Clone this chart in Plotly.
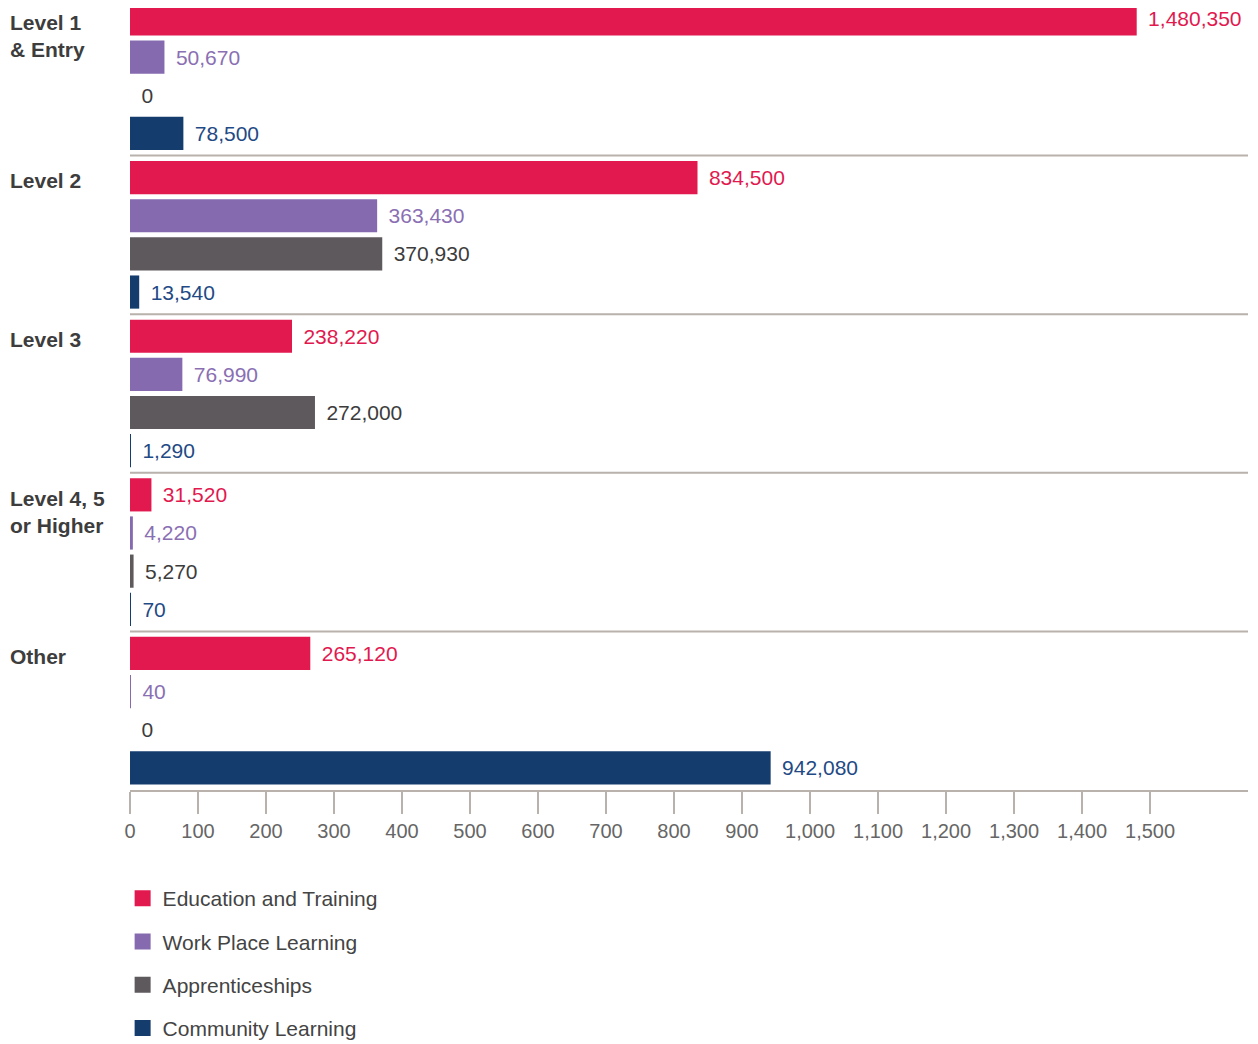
import plotly.graph_objects as go

categories = ["Level 1 & Entry", "Level 2", "Level 3", "Level 4, 5 or Higher", "Other"]
category_labels = ["Level 1<br>& Entry", "Level 2", "Level 3", "Level 4, 5<br>or Higher", "Other"]
series_names = ["Education and Training", "Work Place Learning", "Apprenticeships", "Community Learning"]
education = [1480350, 834500, 238220, 31520, 265120]
workplace = [50670, 363430, 76990, 4220, 40]
apprenticeships = [0, 370930, 272000, 5270, 0]
community = [78500, 13540, 1290, 70, 942080]
tick_values = [0, 100000, 200000, 300000, 400000, 500000, 600000, 700000, 800000,
               900000, 1000000, 1100000, 1200000, 1300000, 1400000, 1500000]
tick_labels = ["0", "100", "200", "300", "400", "500", "600", "700", "800", "900",
               "1,000", "1,100", "1,200", "1,300", "1,400", "1,500"]

bar_colors = ["#E1194F", "#856AAF", "#5E595D", "#143D6E"]
label_colors = ["#E1194F", "#8A6FB3", "#3C3C3C", "#1F4A85"]
series_values = [education, workplace, apprenticeships, community]

FONT = "Liberation Sans, Arial, Helvetica, sans-serif"

fig = go.Figure()
for name, vals, col, lcol in zip(series_names, series_values, bar_colors, label_colors):
    fig.add_trace(go.Bar(
        y=categories, x=vals, orientation="h", name=name,
        marker=dict(color=col, line=dict(width=0)),
        texttemplate="\u2009\u2009%{x:,}", textposition="outside",
        textfont=dict(color=lcol, size=21, family=FONT),
        constraintext="none", cliponaxis=False, showlegend=False,
        hovertemplate="%{y}: %{x:,}<extra>" + name + "</extra>",
    ))

# legend proxies with larger square swatches
for i, (name, col) in enumerate(zip(series_names, bar_colors)):
    fig.add_trace(go.Scatter(
        x=[None], y=[None], mode="markers", name=name,
        marker=dict(symbol="square", size=22, color=col),
        legendgroup=f"g{i}", showlegend=True, hoverinfo="skip",
    ))

shapes = []
for k in range(len(categories) - 1):
    shapes.append(dict(type="line", xref="paper", x0=0, x1=1, yref="y",
                       y0=k + 0.5, y1=k + 0.5,
                       line=dict(color="#B8B1AC", width=2)))

annotations = []
for k, lab in enumerate(category_labels):
    annotations.append(dict(
        text="<b>" + lab + "</b>", xref="paper", x=-0.109, xanchor="left",
        yref="y", y=k - 0.425, yanchor="top", showarrow=False, align="left",
        font=dict(size=21, color="#3D3D3D", family=FONT),
    ))

fig.update_layout(
    width=1250, height=1036,
    margin=dict(l=122, r=10, t=0, b=254, autoexpand=False),
    plot_bgcolor="white", paper_bgcolor="white",
    barmode="group", bargap=0.038, bargroupgap=0.13,
    font=dict(family=FONT, size=20, color="#444444"),
    xaxis=dict(range=[0, 1644000], tickvals=tick_values, ticktext=tick_labels,
               showgrid=False, zeroline=False, showline=True,
               linecolor="#B8B1AC", linewidth=2,
               ticks="outside", ticklen=22, tickwidth=1.5, tickcolor="#B8B1AC",
               tickfont=dict(size=20, color="#666666", family=FONT)),
    yaxis=dict(range=[4.5, -0.43], autorange=False, showticklabels=False,
               showgrid=False, zeroline=False, showline=False, ticks=""),
    legend=dict(x=-0.0066, xanchor="left", y=-0.1126, yanchor="top",
                orientation="v", tracegroupgap=13, itemsizing="trace",
                font=dict(size=21, color="#444444", family=FONT)),
    shapes=shapes, annotations=annotations,
)

fig.write_html("out.html")
